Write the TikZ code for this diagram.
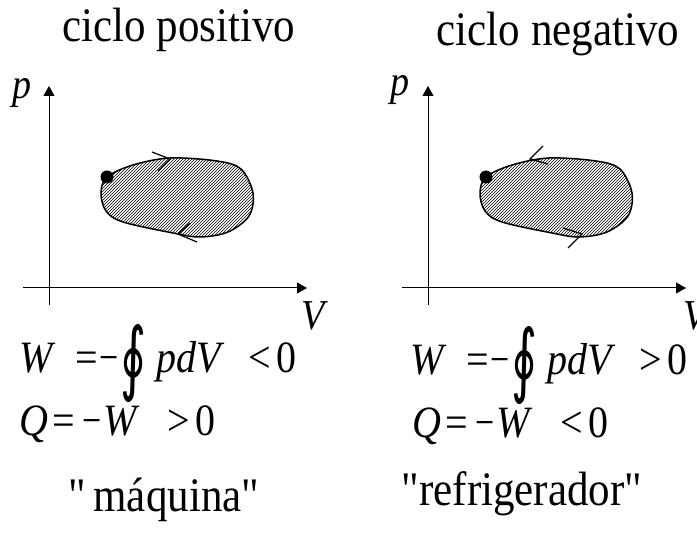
\documentclass[tikz,border=0pt]{standalone}
\usepackage{fontspec}
\setmainfont{Liberation Serif}
\newfontfamily\plainfont{Liberation Serif}
\newfontfamily\symbfont{DejaVu Sans}
\usetikzlibrary{arrows.meta,patterns}

\tikzset{
  axis/.style={line width=1pt, -{Triangle[length=10pt,width=11pt]}},
  cycleline/.style={line width=1.5pt, pattern=north east lines},
  sense/.style={line width=1.2pt},
  bigtext/.style={inner sep=0pt, font=\fontsize{43}{50}\selectfont},
  eqtext/.style={inner sep=0pt, anchor=base west, font=\fontsize{40}{48}\selectfont},
  axlabel/.style={inner sep=0pt, anchor=base west, font=\fontsize{38}{44}\selectfont\itshape},
}
\newcommand{\tall}[1]{\scalebox{1}[1.12]{#1}}
\newcommand{\ointbig}{\raisebox{-0.27em}{\scalebox{1.25}[1.8]{\symbfont ∮}}}
\newcommand{\mns}{\scalebox{0.85}[1]{−}}
\newcommand{\qt}{{\plainfont\symbol{34}}}

\begin{document}
\begin{tikzpicture}[x=1pt,y=-1pt]
\useasboundingbox (0,0) rectangle (697,537);

% Titles
\node[bigtext, anchor=base] (tpos) at (179,42) {\tall{ciclo positivo}};
\node[bigtext, anchor=base] (tneg) at (558,46) {\tall{ciclo negativo}};

% Axes and cycle, same for both diagrams
\foreach \s/\n in {0/1, 379/2} {
  \begin{scope}[xshift=\s]
    \coordinate (ybot\n) at (49,305);
    \coordinate (ytop\n) at (49,86);
    \coordinate (xlft\n) at (23,288);
    \coordinate (xrgt\n) at (307,288);
    \draw[axis] (ybot\n) -- (ytop\n);
    \draw[axis] (xlft\n) -- (xrgt\n);
    % cycle
    \draw[cycleline] plot[smooth cycle, tension=0.55] coordinates
      {(107,177) (133,165) (170,158) (217,161) (241,169) (253,193)
       (249,216) (228,232) (200,237) (173,233) (123,222) (106,211) (101,193)};
    \coordinate (start\n) at (107,177);
    \fill (start\n) circle (6.5);
  \end{scope}
}

% Axis labels
\node[axlabel] (p1) at (12,99) {\tall{p}};
\node[axlabel] (v1) at (301,330) {\tall{V}};
\node[axlabel] (p2) at (390,96) {\tall{p}};
\node[axlabel] (v2) at (683,330) {\tall{V}};

% Sense marks, positive cycle (clockwise)
\coordinate (a1) at (170,159);
\draw[sense] (152,152) -- (a1) -- (158,171);
\coordinate (b1) at (178,234);
\draw[sense] (190,223) -- (b1) -- (197,242);

% Sense marks, negative cycle (counterclockwise)
\coordinate (a2) at (530,159);
\draw[sense] (543,146) -- (a2) -- (548,164);
\coordinate (b2) at (582,234);
\draw[sense] (563,228) -- (b2) -- (568,248);

% Work and heat
\node[eqtext] (w1) at (19,373) {\tall{\textit{W}\hspace{0.5em}=\hspace{0.03em}\mns\hspace{0.05em}\ointbig\hspace{0.25em}\textit{pdV}\hspace{0.6em}<\hspace{0.12em}0}};
\node[eqtext] (q1) at (19,436) {\tall{\textit{Q}\hspace{0.1em}=\hspace{0.2em}\mns\hspace{0.03em}\textit{W}\hspace{0.7em}>\hspace{0.15em}0}};
\node[eqtext] (w2) at (410,375) {\tall{\textit{W}\hspace{0.5em}=\hspace{0.03em}\mns\hspace{0.05em}\ointbig\hspace{0.25em}\textit{pdV}\hspace{0.6em}>\hspace{0.12em}0}};
\node[eqtext] (q2) at (412,438) {\tall{\textit{Q}\hspace{0.1em}=\hspace{0.2em}\mns\hspace{0.03em}\textit{W}\hspace{0.7em}<\hspace{0.15em}0}};

% Names
\node[bigtext, anchor=base] (maq) at (164,512) {\tall{\qt\,máquina\qt}};
\node[bigtext, anchor=base] (ref) at (522,506) {\tall{\qt refrigerador\qt}};
\end{tikzpicture}
\end{document}
